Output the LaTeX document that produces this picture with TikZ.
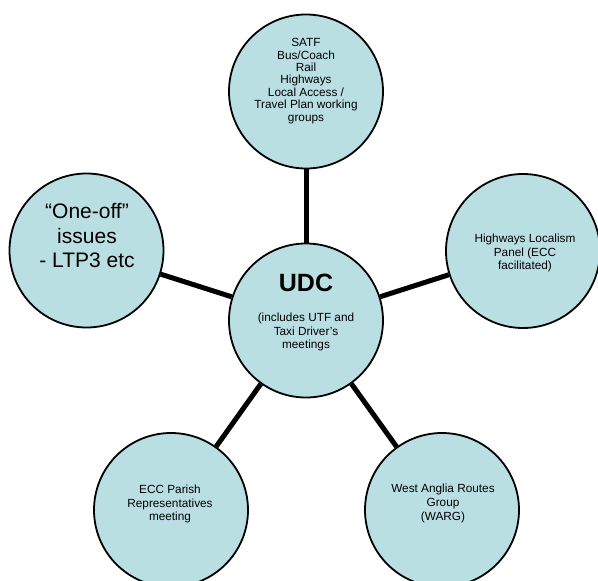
\documentclass[tikz,border=0pt]{standalone}
\usepackage{fontspec}
\setmainfont{Liberation Sans}
\definecolor{bubble}{RGB}{185,223,227}
\begin{document}
\begin{tikzpicture}[x=1pt,y=-1pt,
  bub/.style={circle,draw=black,line width=1.8pt,fill=bubble,inner sep=0pt,minimum size=154pt},
  conn/.style={line width=5pt,black},
  small/.style={align=center,font=\fontsize{11.8}{13.8}\selectfont,inner sep=0pt},
  big/.style={align=center,font=\fontsize{21}{24.5}\selectfont,inner sep=0pt}]
\useasboundingbox (0,0) rectangle (598,581);
\node[bub] (top) at (306,91.5) {};
\node[bub] (udc) at (306,320.5) {};
\node[bub] (right) at (523,251) {};
\node[bub] (left) at (86.5,250.5) {};
\node[bub] (bl) at (171,510) {};
\node[bub] (br) at (442,510) {};
\draw[conn] (udc) -- (top);
\draw[conn] (udc) -- (right);
\draw[conn] (udc) -- (left);
\draw[conn] (udc) -- (bl);
\draw[conn] (udc) -- (br);
\node[small,font=\fontsize{11.8}{12.4}\selectfont] (toptext) at (306,81) {SATF\\Bus/Coach\\Rail\\Highways\\Local Access /\\Travel Plan working\\groups};
\node[inner sep=0pt,font=\fontsize{25}{30}\selectfont\bfseries] (udctitle) at (306,283) {UDC};
\node[small] (udcsub) at (306,332) {(includes UTF and\\Taxi Driver{\char"27}s\\meetings};
\node[small] (righttext) at (525,253) {Highways Localism\\Panel (ECC\\facilitated)};
\node[big] (lefttext) at (87,236) {“One-off”\\issues\\- LTP3 etc};
\node[small] (bltext) at (170,504) {ECC Parish\\Representatives\\meeting};
\node[small] (brtext) at (443,503.5) {West Anglia Routes\\Group\\(WARG)};
\end{tikzpicture}
\end{document}
